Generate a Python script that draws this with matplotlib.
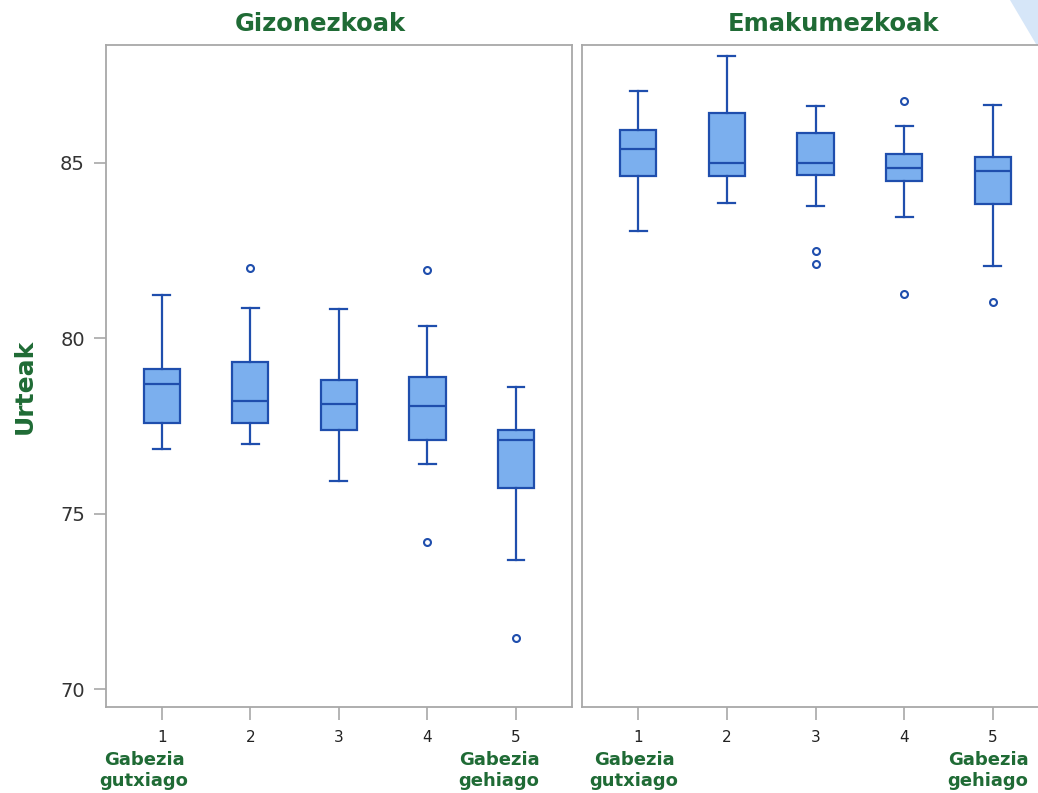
import matplotlib
matplotlib.use("Agg")
import matplotlib.pyplot as plt
from matplotlib.patches import Polygon

# ---- data ----
categories = [1, 2, 3, 4, 5]
panel_titles = ["Gizonezkoak", "Emakumezkoak"]
y_label = "Urteak"
y_ticks = [70, 75, 80, 85]

# Men (Gizonezkoak)
men_whislo = [76.86, 77.00, 75.94, 76.42, 73.70]
men_q1 = [77.58, 77.58, 77.38, 77.10, 75.75]
men_med = [78.70, 78.22, 78.12, 78.07, 77.10]
men_q3 = [79.14, 79.33, 78.81, 78.89, 77.38]
men_whishi = [81.23, 80.88, 80.84, 80.35, 78.61]
men_fliers = [[], [82.01], [], [81.96, 74.19], [71.47]]

# Women (Emakumezkoak)
women_whislo = [83.07, 83.85, 83.76, 83.46, 82.06]
women_q1 = [84.62, 84.62, 84.67, 84.48, 83.84]
women_med = [85.41, 85.01, 85.01, 84.87, 84.77]
women_q3 = [85.93, 86.42, 85.84, 85.26, 85.16]
women_whishi = [87.05, 88.04, 86.62, 86.04, 86.66]
women_fliers = [[], [], [82.49, 82.11], [86.77, 81.28], [81.03]]

low_label = "Gabezia\ngutxiago"
high_label = "Gabezia\ngehiago"

# ---- style ----
W, H = 1038, 793
DPI = 100
GREEN = "#1F6B35"
FILL = "#7BAFEE"
EDGE = "#1F4EAD"
SPINE = "#A8A8A8"
TICKTXT = "#333333"


def stats(whislo, q1, med, q3, whishi, fliers):
    return [dict(whislo=a, q1=b, med=c, q3=d, whishi=e, fliers=f, label=str(k))
            for a, b, c, d, e, f, k in zip(whislo, q1, med, q3, whishi, fliers, categories)]


fig = plt.figure(figsize=(W / DPI, H / DPI), dpi=DPI)
fig.patches.append(Polygon([[1010 / W, 1.0], [1.0, 1.0], [1.0, 1 - 44 / H], [1036 / W, 1 - 44 / H]],
                           closed=True, transform=fig.transFigure, facecolor="#D6E6F8",
                           edgecolor="none", zorder=0))


def px_axes(x0, y0, x1, y1):
    return fig.add_axes([x0 / W, 1 - y1 / H, (x1 - x0) / W, (y1 - y0) / H])


ax1 = px_axes(105.7, 44.7, 572.3, 707.3)
ax2 = px_axes(582.3, 44.7, 1049.0, 707.3)

ylo, yhi = 69.49, 88.37
xlo, xhi = 0.368, 5.635

for ax, st, title, tx, lx, hx in [
    (ax1, stats(men_whislo, men_q1, men_med, men_q3, men_whishi, men_fliers), panel_titles[0], 320, 144, 499),
    (ax2, stats(women_whislo, women_q1, women_med, women_q3, women_whishi, women_fliers), panel_titles[1], 834, 634, 988),
]:
    ax.bxp(st, positions=categories, widths=0.41, patch_artist=True, showfliers=True,
           boxprops=dict(facecolor=FILL, edgecolor=EDGE, linewidth=1.6),
           medianprops=dict(color=EDGE, linewidth=1.6),
           whiskerprops=dict(color=EDGE, linewidth=1.6),
           capprops=dict(color=EDGE, linewidth=1.6),
           capwidths=0.19,
           flierprops=dict(marker="o", markersize=5, markerfacecolor="none",
                           markeredgecolor=EDGE, markeredgewidth=1.5))
    ax.set_xlim(xlo, xhi)
    ax.set_ylim(ylo, yhi)
    for s in ax.spines.values():
        s.set_color(SPINE)
        s.set_linewidth(1.3)
    ax.set_xticks(categories)
    ax.set_xticklabels([str(c) for c in categories])
    ax.tick_params(axis="x", colors=SPINE, labelcolor="#222222", labelsize=11,
                   length=9, width=1.2, pad=7)
    fig.text(tx / W, 1 - 24 / H, title, ha="center", va="center", color=GREEN,
             fontsize=17.5, fontweight="bold", family="DejaVu Sans")
    # endpoint labels
    fig.text(lx / W, 1 - 751 / H, low_label, ha="center", va="top",
             color=GREEN, fontsize=13, fontweight="bold", linespacing=1.2)
    fig.text(hx / W, 1 - 751 / H, high_label, ha="center", va="top",
             color=GREEN, fontsize=13, fontweight="bold", linespacing=1.2)

ax1.set_yticks(y_ticks)
ax1.tick_params(axis="y", colors=SPINE, labelcolor=TICKTXT, labelsize=14, length=9, width=1.2, pad=6)
ax2.set_yticks([])
ax2.tick_params(axis="y", length=0)

fig.text(25 / W, 1 - 386 / H, y_label, rotation=90, ha="center", va="center", color=GREEN,
         fontsize=18, fontweight="bold")

fig.savefig("out.png", dpi=DPI)
